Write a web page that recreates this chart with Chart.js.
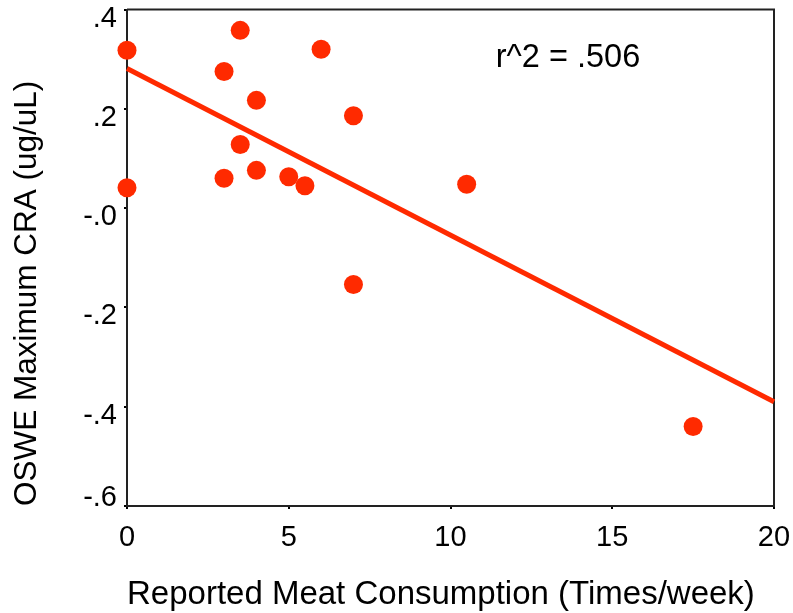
<!DOCTYPE html>
<html>
<head>
<meta charset="utf-8">
<script src="https://cdn.jsdelivr.net/npm/chart.js@4.4.1/dist/chart.umd.min.js"></script>
<style>
  html, body { margin: 0; padding: 0; background: #fff; }
  canvas { display: block; }
</style>
</head>
<body>
<canvas id="scatter" width="793" height="613"></canvas>
<script>
// reported meat consumption (times/week) vs OSWE maximum CRA (ug/uL)
var meatPerWeek = [0, 0, 3, 3, 3.5, 3.5, 4, 4, 5, 5.5, 6, 7, 7, 10.5, 17.5];
var craMax = [0.318, 0.041, 0.275, 0.060, 0.358, 0.128, 0.217, 0.076, 0.063, 0.045, 0.320, 0.186, -0.154, 0.048, -0.440];

// least squares line, evaluated at the ends of the x range
var fitX = [0, 20];
var fitY = [0.281, -0.390];
var rSquared = '.506';

var yTickLabels = ['-.6', '-.4', '-.2', '-.0', '.2', '.4'];
var xTickLabels = ['0', '5', '10', '15', '20'];

var red = '#ff2a00';
var font = 'Liberation Sans, Arial, Helvetica, sans-serif';

var points = meatPerWeek.map(function (x, i) { return { x: x, y: craMax[i] }; });
var fitLine = fitX.map(function (x, i) { return { x: x, y: fitY[i] }; });

// top and right edges of the box plus the r^2 note
var frame = {
  id: 'frame',
  beforeDatasetsDraw: function (chart) {
    var a = chart.chartArea, ctx = chart.ctx;
    ctx.save();
    ctx.strokeStyle = '#222';
    ctx.lineWidth = 2;
    ctx.beginPath();
    ctx.moveTo(a.left, a.top);
    ctx.lineTo(a.right, a.top);
    ctx.lineTo(a.right, a.bottom);
    ctx.stroke();
    ctx.restore();
  },
  afterDraw: function (chart) {
    var ctx = chart.ctx;
    var x = chart.scales.x.getPixelForValue(11.4);
    var y = chart.scales.y.getPixelForValue(0.303);
    ctx.save();
    ctx.fillStyle = '#000';
    ctx.font = '32.5px ' + font;
    ctx.textAlign = 'left';
    ctx.textBaseline = 'middle';
    ctx.fillText('r^2 = ' + rSquared, x, y);
    ctx.restore();
  }
};

new Chart(document.getElementById('scatter').getContext('2d'), {
  type: 'scatter',
  data: {
    datasets: [{
      type: 'line',
      data: fitLine,
      borderColor: red,
      borderWidth: 5,
      pointRadius: 0,
      fill: false,
      clip: false
    }, {
      data: points,
      backgroundColor: red,
      borderWidth: 0,
      pointRadius: 9.5,
      pointHoverRadius: 9.5,
      clip: false
    }]
  },
  options: {
    responsive: false,
    animation: false,
    devicePixelRatio: 1,
    layout: { padding: { top: 7, right: 19, left: 0, bottom: 0 } },
    plugins: { legend: { display: false }, tooltip: { enabled: false } },
    scales: {
      x: {
        type: 'linear',
        min: 0, max: 20,
        afterFit: function (s) { s.height = 107; s.paddingLeft = 0; s.paddingRight = 0; },
        ticks: {
          stepSize: 5,
          color: '#000',
          padding: 12,
          font: { family: font, size: 29 },
          callback: function (v, i) { return xTickLabels[i]; }
        },
        grid: { drawOnChartArea: false, tickLength: 3, color: '#000', lineWidth: 2 },
        border: { color: '#222', width: 2 },
        title: {
          display: true,
          align: 'start',
          text: 'Reported Meat Consumption (Times/week)',
          color: '#000',
          font: { family: font, size: 33 },
          padding: { top: 0, bottom: -2 }
        }
      },
      y: {
        type: 'linear',
        min: -0.6, max: 0.4,
        afterFit: function (s) { s.width = 127; s.paddingTop = 0; s.paddingBottom = 0; },
        ticks: {
          stepSize: 0.2,
          color: '#000',
          padding: 7,
          labelOffset: 9,
          font: { family: font, size: 29 },
          // bottom label sits above its tick so it stays level with the axis
          callback: function (v, i) { return i === 0 ? [yTickLabels[i], ''] : yTickLabels[i]; }
        },
        grid: { drawOnChartArea: false, tickLength: 3, color: '#000', lineWidth: 2 },
        border: { color: '#222', width: 2 },
        title: {
          display: true,
          align: 'start',
          text: 'OSWE Maximum CRA (ug/uL)',
          color: '#000',
          font: { family: font, size: 31.5 },
          padding: { top: 8, bottom: 0 }
        }
      }
    }
  },
  plugins: [frame]
});
</script>
</body>
</html>
